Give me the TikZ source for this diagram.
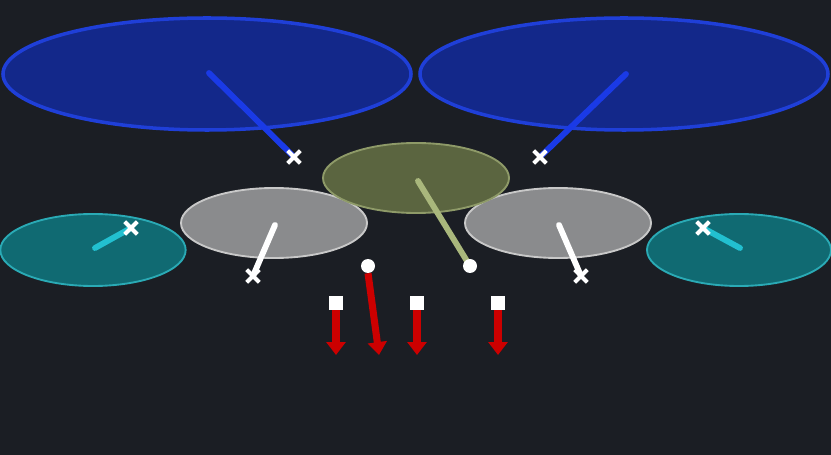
\documentclass[tikz,border=0pt]{standalone}
\usetikzlibrary{shapes.geometric, shapes.misc, arrows.meta}
\definecolor{bg}{HTML}{1B1E24}
\definecolor{tomblue}{HTML}{13288A}
\definecolor{tomedge}{HTML}{1F3FD8}
\definecolor{stickblue}{HTML}{1A3AE6}
\definecolor{olive}{HTML}{5B6540}
\definecolor{oliveedge}{HTML}{8E9A68}
\definecolor{olivestick}{HTML}{A9B77C}
\definecolor{drumgray}{HTML}{8A8B8D}
\definecolor{grayedge}{HTML}{C8C8C8}
\definecolor{teal}{HTML}{106A72}
\definecolor{tealedge}{HTML}{2AAAB5}
\definecolor{tealstick}{HTML}{22C0D0}
\definecolor{kickred}{HTML}{CC0000}
\newcommand\bigw{12.24}
\newcommand\bigh{3.36}
\newcommand\drumw{5.58}
\newcommand\drumh{2.1}
\tikzstyle{tom} = [ellipse, inner sep=0pt, minimum width=\bigw cm, minimum height=\bigh cm, fill=tomblue, draw=tomedge, line width=3pt]
\tikzstyle{drum} = [ellipse, inner sep=0pt, minimum width=\drumw cm, minimum height=\drumh cm, line width=1.6pt]
\tikzstyle{hit} = [cross out, draw=white, line width=3.4pt, minimum size=0.26cm, inner sep=0pt]
\tikzstyle{dot} = [circle, fill=white, minimum size=0.42cm, inner sep=0pt]
\tikzstyle{pedal} = [rectangle, fill=white, minimum size=0.42cm, inner sep=0pt]
\tikzstyle{stick} = [line width=5pt, line cap=round]
\tikzstyle{kick} = [kickred, line width=6pt, -{Triangle[width=16pt, length=11pt]}]

\begin{document}
\begin{tikzpicture}[x=0.03cm, y=-0.03cm]
	\fill[bg] (0,0) rectangle (831,455);
	\useasboundingbox (0,0) rectangle (831,455);

	% big toms
	\node[tom] (tomL) at (207,74) {};
	\node[tom] (tomR) at (624,74) {};

	% side drums
	\node[drum, fill=teal, draw=tealedge, minimum width=5.56cm, minimum height=2.16cm] (tealL) at (93,250) {};
	\node[drum, fill=teal, draw=tealedge, minimum width=5.52cm, minimum height=2.16cm] (tealR) at (739,250) {};
	\node[drum, fill=drumgray, draw=grayedge] (grayL) at (274,223) {};
	\node[drum, fill=drumgray, draw=grayedge] (grayR) at (558,223) {};
	\node[drum, fill=olive, draw=oliveedge] (snare) at (416,178) {};

	% hit points
	\coordinate (hitTL) at (294,157);
	\coordinate (hitTR) at (540,157);
	\coordinate (hitGL) at (253,276);
	\coordinate (hitGR) at (581,276);
	\coordinate (hitCL) at (131,228);
	\coordinate (hitCR) at (703,228);

	% sticks
	\draw[stick, stickblue] (209,73) -- (hitTL);
	\draw[stick, stickblue] (626,74) -- (hitTR);
	\draw[stick, white] (275,225) -- (hitGL);
	\draw[stick, white] (559,225) -- (hitGR);
	\draw[stick, tealstick] (95,248) -- (hitCL);
	\draw[stick, tealstick] (740,248) -- (hitCR);
	\draw[stick, olivestick] (418,181) -- (470,266);

	\node[hit] at (hitTL) {};
	\node[hit] at (hitTR) {};
	\node[hit] at (hitGL) {};
	\node[hit] at (hitGR) {};
	\node[hit] at (hitCL) {};
	\node[hit] at (hitCR) {};

	% pedals
	\node[dot] (dotA) at (368,266) {};
	\node[dot] (dotB) at (470,266) {};
	\node[pedal] (padA) at (336,303) {};
	\node[pedal] (padB) at (417,303) {};
	\node[pedal] (padC) at (498,303) {};

	\draw[kick] (padA.south) -- (336,355);
	\draw[kick] (dotA.south) -- (379,355);
	\draw[kick] (padB.south) -- (417,355);
	\draw[kick] (padC.south) -- (498,355);
\end{tikzpicture}
\end{document}
